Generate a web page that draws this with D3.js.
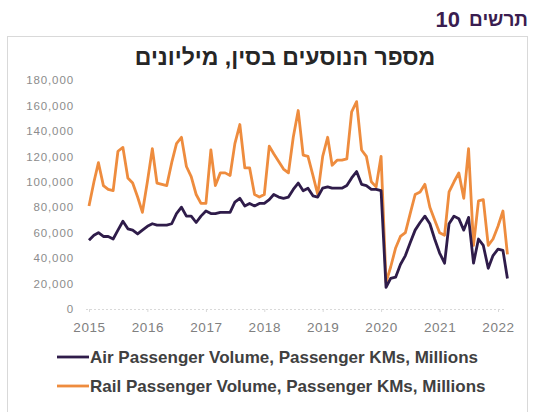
<!DOCTYPE html>
<html lang="he">
<head>
<meta charset="utf-8">
<script src="https://cdn.jsdelivr.net/npm/d3@7"></script>
<style>
  html, body { margin: 0; padding: 0; background: #fff; }
  svg { display: block; }
</style>
</head>
<body>
<svg id="chart" width="537" height="412"></svg>
<script>
// Monthly series, Jan 2015 onward (passenger-km, millions)
const firstMonth = "2015-01-01";
const airVolume = [
  54000, 58000, 60000, 57000, 57000, 55000, 62000, 69000, 63000, 62000, 59000, 62000,
  65000, 67000, 66000, 66000, 66000, 67000, 75000, 80000, 73000, 73000, 68000, 73000,
  77000, 75000, 75000, 76000, 76000, 76000, 84000, 87000, 81000, 83000, 81000, 83000,
  83000, 86000, 90000, 88000, 87000, 88000, 94000, 99000, 93000, 95000, 89000, 88000,
  95000, 96000, 95000, 95000, 95000, 97000, 103000, 108000, 98000, 97000, 94000, 94000,
  93000, 17000, 24000, 25000, 35000, 42000, 52000, 62000, 68000, 73000, 67000, 55000,
  44000, 36000, 67000, 73000, 71000, 62000, 72000, 36000, 55000, 50000, 32000, 42000,
  47000, 46000, 24000
];
const railVolume = [
  81000, 100000, 115000, 97000, 94000, 93000, 124000, 127000, 103000, 99000, 88000, 76000,
  100000, 126000, 99000, 98000, 97000, 115000, 130000, 135000, 112000, 104000, 90000, 83000,
  83000, 125000, 97000, 107000, 107000, 105000, 130000, 145000, 111000, 111000, 90000, 88000,
  90000, 128000, 122000, 116000, 110000, 107000, 135000, 156000, 121000, 120000, 105000, 90000,
  120000, 135000, 113000, 117000, 117000, 118000, 155000, 163000, 125000, 120000, 100000, 96000,
  120000, 21000, 33000, 48000, 57000, 60000, 75000, 90000, 92000, 98000, 80000, 70000,
  60000, 58000, 92000, 100000, 107000, 87000, 126000, 50000, 85000, 86000, 50000, 55000,
  65000, 77000, 43000
];
const yTicks = [0, 20000, 40000, 60000, 80000, 100000, 120000, 140000, 160000, 180000];
const yearTicks = [2015, 2016, 2017, 2018, 2019, 2020, 2021, 2022];
const seriesNames = [
  "Air Passenger Volume, Passenger KMs, Millions",
  "Rail Passenger Volume, Passenger KMs, Millions"
];
const seriesColors = ["#2f1c4a", "#ee8c3e"];

const FONT = "Liberation Sans, Arial, sans-serif";
const svg = d3.select("#chart");
const start = new Date(firstMonth + "T00:00:00Z");
const months = airVolume.map((_, i) => d3.utcMonth.offset(start, i));

const x = d3.scaleUtc()
  .domain([start, new Date("2022-01-01T00:00:00Z")])
  .range([89, 498]);
const y = d3.scaleLinear().domain([0, 180000]).range([309, 80]);

// Chart frame
svg.append("rect")
  .attr("x", 7.5).attr("y", 36.5).attr("width", 520).attr("height", 380)
  .attr("fill", "#fff").attr("stroke", "#d9d9d9").attr("stroke-width", 1);

// Figure number (right-to-left: label word on the right, number to its left)
svg.append("text")
  .attr("x", 528).attr("y", 26)
  .attr("text-anchor", "end")
  .attr("font-family", FONT).attr("font-weight", "bold").attr("font-size", 19)
  .attr("fill", "#3a1d50")
  .text("תרשים");
svg.append("text")
  .attr("x", 460).attr("y", 27)
  .attr("text-anchor", "end")
  .attr("font-family", FONT).attr("font-weight", "bold").attr("font-size", 22)
  .attr("fill", "#3a1d50")
  .text("10");

// Chart title
svg.append("text")
  .attr("x", 285).attr("y", 65)
  .attr("text-anchor", "middle").attr("direction", "rtl")
  .attr("font-family", FONT).attr("font-weight", "bold").attr("font-size", 23)
  .attr("fill", "#262626")
  .text("מספר הנוסעים בסין, מיליונים");

// Y axis labels
const fmt = d3.format(",");
const yAxis = svg.append("g")
  .attr("transform", "translate(74,0)")
  .call(d3.axisLeft(y).tickValues(yTicks).tickFormat(fmt).tickSize(0).tickPadding(0));
yAxis.select(".domain").remove();
yAxis.selectAll("text")
  .attr("font-family", FONT)
  .attr("font-size", 11.5).attr("letter-spacing", 0.9).attr("fill", "#8c8c8c");

// X axis
const yearDates = yearTicks.map(yr => new Date(Date.UTC(yr, 0, 1)));
const xAxis = svg.append("g")
  .attr("transform", "translate(0,309)")
  .call(d3.axisBottom(x).tickValues(yearDates).tickFormat(d3.utcFormat("%Y")).tickSize(3).tickPadding(10));
xAxis.select(".domain")
  .attr("d", "M86,0.5H506")
  .attr("stroke", "#d9d9d9").attr("stroke-dasharray", "2,2");
xAxis.selectAll(".tick line").attr("stroke", "#d9d9d9");
xAxis.selectAll("text")
  .attr("font-family", FONT)
  .attr("font-size", 13.5).attr("letter-spacing", 0.6).attr("fill", "#808080");

// Series lines
const line = values => d3.line()
  .x((d, i) => x(months[i]))
  .y(d => y(d))(values);

[[railVolume, seriesColors[1]], [airVolume, seriesColors[0]]].forEach(([vals, color]) => {
  svg.append("path")
    .attr("d", line(vals))
    .attr("fill", "none")
    .attr("stroke", color)
    .attr("stroke-width", 2.8)
    .attr("stroke-linejoin", "round");
});

// Legend
const legend = svg.append("g");
seriesNames.forEach((name, i) => {
  const ly = 357 + i * 29;
  legend.append("line")
    .attr("x1", 57).attr("x2", 89).attr("y1", ly).attr("y2", ly)
    .attr("stroke", seriesColors[i]).attr("stroke-width", 2.8);
  legend.append("text")
    .attr("x", 90).attr("y", ly + 6)
    .attr("font-family", FONT)
    .attr("font-weight", "bold").attr("font-size", 17)
    .attr("fill", "#404040")
    .text(name);
});
</script>
</body>
</html>
